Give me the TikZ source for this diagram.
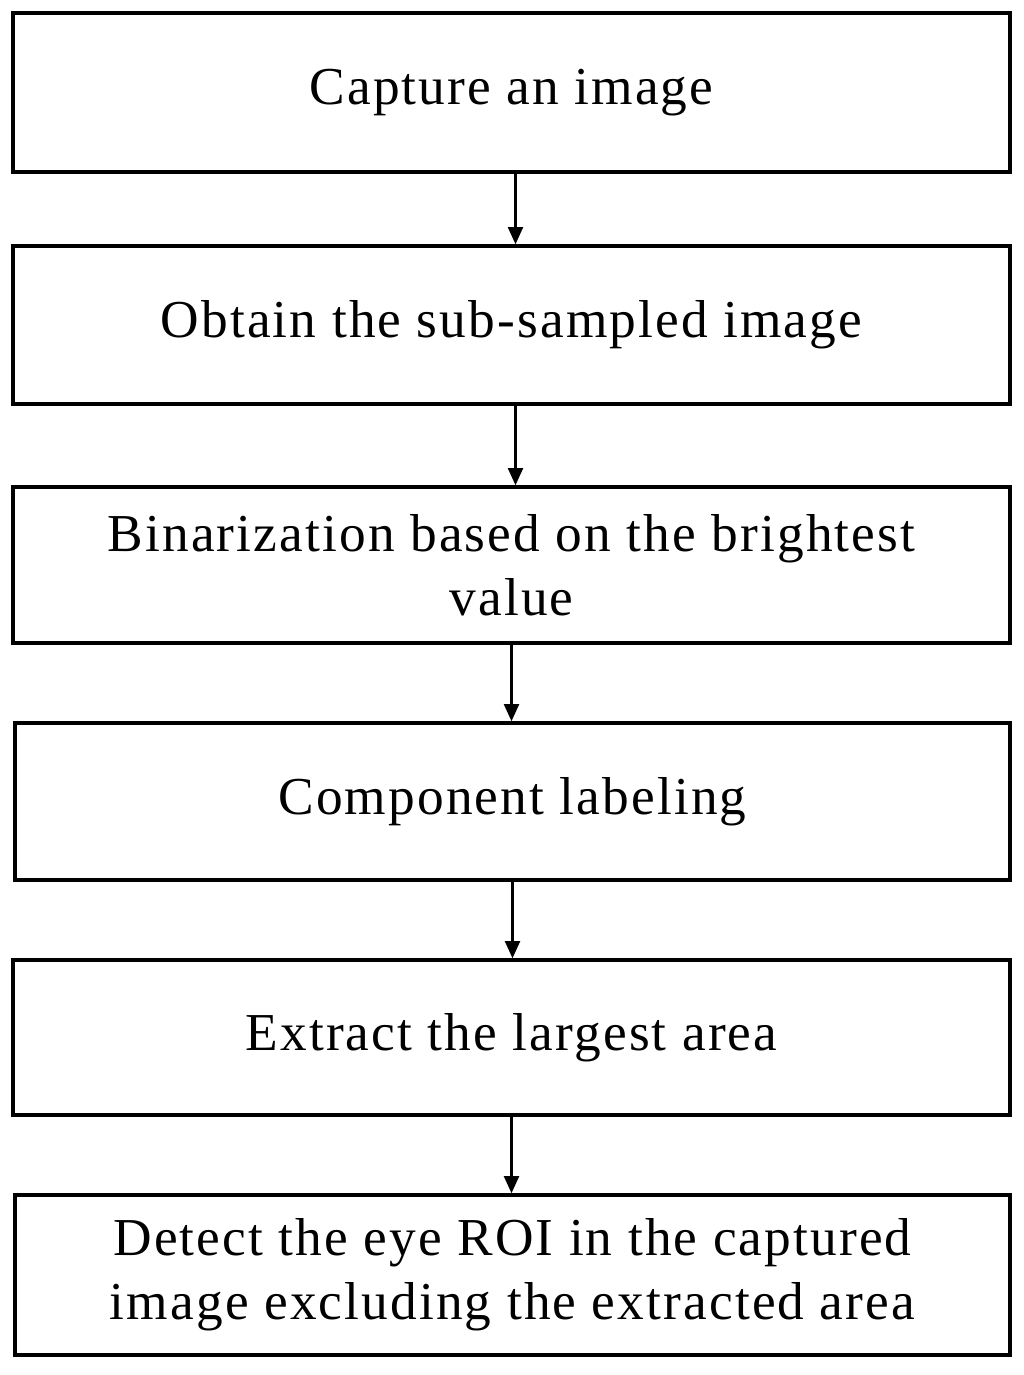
\documentclass[tikz,border=0pt]{standalone}
\usepackage{fontspec}
\setmainfont{Liberation Serif}[LetterSpace=4]
\usetikzlibrary{arrows.meta}
\begin{document}
\begin{tikzpicture}[x=0.75pt,y=-0.75pt,
  box/.style={draw,line width=2.4pt,minimum width=997*0.75pt,align=center,inner sep=0pt,font=\fontsize{40}{48}\selectfont},
  arr/.style={-{Triangle[length=13pt,width=11pt]},line width=2.4pt}]
\useasboundingbox (0,0) rectangle (1024,1375);
\node[box,minimum height=159*0.75pt] (a) at (511.5,92.5) {Capture an image};
\node[box,minimum height=158*0.75pt] (b) at (511.5,325) {Obtain the sub-sampled image};
\node[box,minimum height=156*0.75pt] (c) at (511.5,565) {Binarization based on the brightest\\value};
\node[box,minimum height=157*0.75pt,minimum width=995*0.75pt] (d) at (512.5,801.5) {Component labeling};
\node[box,minimum height=155*0.75pt] (e) at (511.5,1037.5) {Extract the largest area};
\node[box,minimum height=160*0.75pt,minimum width=995*0.75pt] (f) at (512.5,1275) {Detect the eye ROI in the captured\\image excluding the extracted area};
\draw[arr] (a.south) ++(4,0) -- ([xshift=4*0.75pt]b.north);
\draw[arr] (b.south) ++(4,0) -- ([xshift=4*0.75pt]c.north);
\draw[arr] (c.south) -- ([xshift=-0.75pt]d.north);
\draw[arr] (d.south) -- (d.south |- e.north);
\draw[arr] (e.south) -- (e.south |- f.north);
\end{tikzpicture}
\end{document}
